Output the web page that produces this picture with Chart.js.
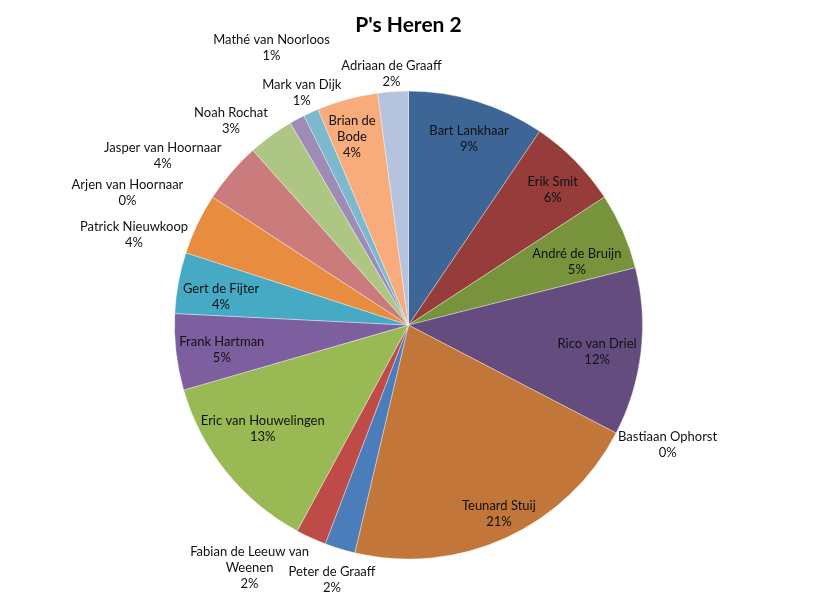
<!DOCTYPE html>
<html>
<head>
<meta charset="utf-8">
<script src="https://cdn.jsdelivr.net/npm/chart.js@4/dist/chart.umd.min.js"></script>
<style>
  body { margin: 0; background: #fff; }
  canvas { display: block; }
</style>
</head>
<body>
<canvas id="pie" width="817" height="609"></canvas>
<script>
// goals per player, clockwise from 12 o'clock
const players = [
    'Bart Lankhaar', 'Erik Smit', 'André de Bruijn', 'Rico van Driel', 'Bastiaan Ophorst',
    'Teunard Stuij', 'Peter de Graaff', 'Fabian de Leeuw van Weenen', 'Eric van Houwelingen',
    'Frank Hartman', 'Gert de Fijter', 'Patrick Nieuwkoop', 'Arjen van Hoornaar',
    'Jasper van Hoornaar', 'Noah Rochat', 'Mathé van Noorloos', 'Mark van Dijk',
    'Brian de Bode', 'Adriaan de Graaff'
];
const goals = [9, 6, 5, 11, 0, 20, 2, 2, 12, 5, 4, 4, 0, 4, 3, 1, 1, 4, 2];

const sliceColors = [
    '#3d6596', '#963c3b', '#77933c', '#644c7e', '#31859c', '#c2763a',
    '#4a7dba', '#be4b48', '#98b954', '#7d5fa0', '#46aac5', '#e88c40',
    '#95b3d7', '#c97c7b', '#adc684', '#9e8cb6', '#7cb9cf', '#f8ab7b', '#b5c3de'
];

// labels that Excel put outside the pie (shift to dodge neighbours)
const outside = {
    'Bastiaan Ophorst': [4, 3],
    'Peter de Graaff': [6, 12],
    'Fabian de Leeuw van Weenen': [-35, 5],
    'Arjen van Hoornaar': [-35, 7],
    'Patrick Nieuwkoop': [-11, 19],
    'Jasper van Hoornaar': [-21, -4],
    'Noah Rochat': [-16, 1],
    'Mathé van Noorloos': [4, -54],
    'Mark van Dijk': [9, -1],
    'Adriaan de Graaff': [2, 2]
};
// small tweaks of the labels inside the slices ("best fit")
const inside = {
    'Bart Lankhaar': [1, 8],
    'Erik Smit': [1, 6],
    'André de Bruijn': [1, 10],
    'Rico van Driel': [1, 5],
    'Teunard Stuij': [7, 7],
    'Eric van Houwelingen': [-12, -4],
    'Frank Hartman': [-2, 3],
    'Gert de Fijter': [-1, 6],
    'Brian de Bode': [-4, 5]
};
const wrapAt = {'Brian de Bode': 52, 'Fabian de Leeuw van Weenen': 125};

function wrap(ctx, text, maxW) {
    if (!maxW) return [text];
    let words = text.split(' '), lines = [], cur = '';
    words.forEach(w => {
        let t = cur ? cur + ' ' + w : w;
        if (cur && ctx.measureText(t).width > maxW) {
            lines.push(cur);
            cur = w;
        } else cur = t;
    });
    lines.push(cur);
    return lines;
}

const sliceLabels = {
    id: 'sliceLabels',
    afterDatasetsDraw(chart) {
        let ctx = chart.ctx;
        let meta = chart.getDatasetMeta(0);
        let total = goals.reduce((a, b) => a + b, 0);
        let lh = 16;
        ctx.save();
        ctx.font = '13px Lato';
        ctx.fillStyle = '#111';
        ctx.textAlign = 'center';
        ctx.textBaseline = 'middle';
        meta.data.forEach((arc, i) => {
            let p = arc.getProps(['x', 'y', 'startAngle', 'endAngle', 'outerRadius'], true);
            let mid = (p.startAngle + p.endAngle) / 2;
            let ux = Math.cos(mid), uy = Math.sin(mid);
            let name = players[i];
            let lines = wrap(ctx, name, wrapAt[name]);
            lines.push(Math.round(goals[i] / total * 100) + '%');
            let w = Math.max(...lines.map(l => ctx.measureText(l).width));
            let h = lines.length * lh;
            let cx, cy;
            if (outside[name]) {
                let d = p.outerRadius + 4;
                cx = p.x + ux * d + ux * w / 2 + outside[name][0];
                cy = p.y + uy * d + uy * h / 2 + outside[name][1];
            } else {
                let d = p.outerRadius - (Math.abs(ux) * w / 2 + Math.abs(uy) * h / 2) - 4;
                let s = inside[name] || [0, 0];
                cx = p.x + ux * d + s[0];
                cy = p.y + uy * d + s[1];
            }
            lines.forEach((l, k) => ctx.fillText(l, cx, cy - h / 2 + lh / 2 + k * lh));
        });
        ctx.restore();
    }
};

window.onload = function() {
    let ctx = document.getElementById('pie').getContext('2d');
    new Chart(ctx, {
        type: 'pie',
        data: {
            labels: players,
            datasets: [{
                data: goals,
                backgroundColor: sliceColors,
                borderColor: 'rgba(255,255,255,0.35)',
                borderWidth: 1,
                radius: 234
            }]
        },
        options: {
            responsive: false,
            animation: false,
            layout: {padding: {top: 0, bottom: 7, left: 0, right: 0}},
            plugins: {
                legend: {display: false},
                tooltip: {enabled: false},
                title: {
                    display: true,
                    text: "P's Heren 2",
                    color: '#000',
                    font: {family: 'Lato', size: 21, weight: 'bold', lineHeight: 1.2},
                    padding: {top: 13, bottom: 10}
                }
            }
        },
        plugins: [sliceLabels]
    });
};
</script>
</body>
</html>
